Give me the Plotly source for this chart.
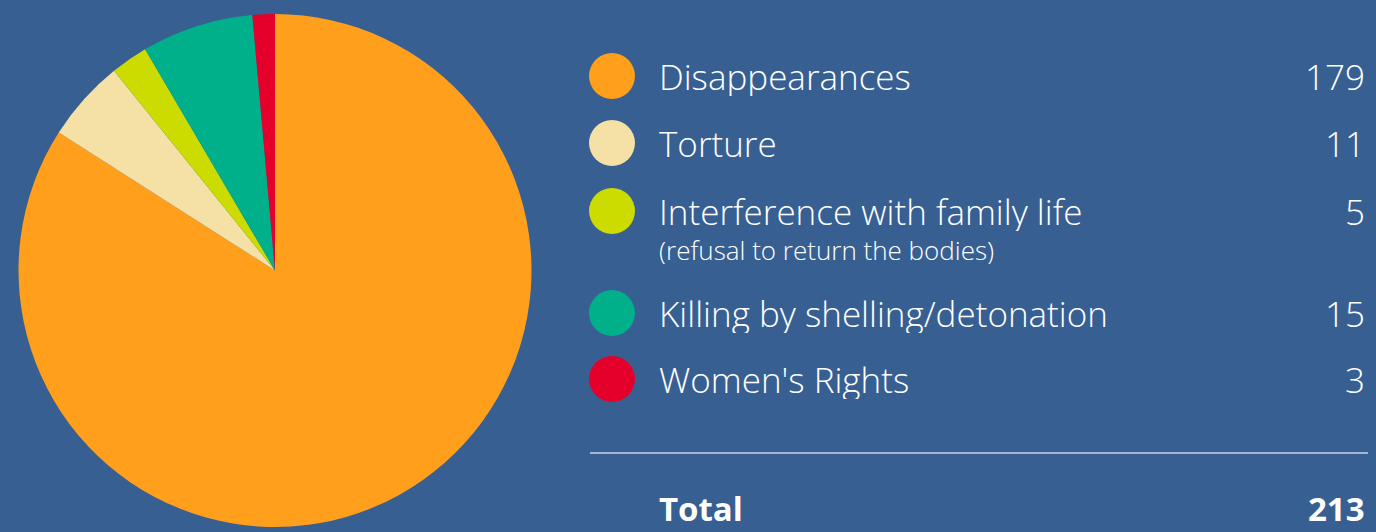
import plotly.graph_objects as go

categories = ["Disappearances", "Torture", "Interference with family life",
              "Killing by shelling/detonation", "Women's Rights"]
values = [179, 11, 5, 15, 3]
colors = ["#FF9F1C", "#F5E1A5", "#CCDB00", "#00B08B", "#E5002B"]
subtitles = ["", "", "(refusal to return the bodies)", "", ""]
total_label = "Total"

W, H = 1376, 532
BG = "#375F92"
FONT = "Open Sans"

def px(x):
    return x / W

def py(y):
    return 1 - y / H

fig = go.Figure()
fig.add_trace(go.Pie(
    labels=categories, values=values, sort=False, direction="clockwise",
    rotation=0, textinfo="none", hoverinfo="label+value",
    marker=dict(colors=colors, line=dict(width=0)),
    domain=dict(x=[px(18), px(532)], y=[py(527), py(14)]),
    showlegend=False,
))

row_y = [76, 143, 211, 313, 379]
shapes = []
annotations = []
r = 23
cx = 612
for i, (cat, val, col, sub) in enumerate(zip(categories, values, colors, subtitles)):
    y = row_y[i]
    shapes.append(dict(type="circle", xref="paper", yref="paper",
                       x0=px(cx - r), x1=px(cx + r), y0=py(y + r), y1=py(y - r),
                       fillcolor=col, line=dict(width=0)))
    annotations.append(dict(x=px(657), y=py(y), xref="paper", yref="paper",
                            text=cat, showarrow=False, xanchor="left", yanchor="middle",
                            height=40, valign="middle",
                            font=dict(family=FONT, size=35, color="white", weight=300)))
    annotations.append(dict(x=px(1367), y=py(y), xref="paper", yref="paper",
                            text=str(val), showarrow=False, xanchor="right", yanchor="middle",
                            height=40, valign="middle",
                            font=dict(family=FONT, size=35, color="white", weight=300)))
    if sub:
        annotations.append(dict(x=px(657), y=py(y + 39), xref="paper", yref="paper",
                                text=sub, showarrow=False, xanchor="left", yanchor="middle",
                                height=28, valign="middle",
                                font=dict(family=FONT, size=26, color="white", weight=300)))

shapes.append(dict(type="line", xref="paper", yref="paper",
                   x0=px(590), x1=px(1368), y0=py(453), y1=py(453),
                   line=dict(color="#C8D2E0", width=1.5)))
annotations.append(dict(x=px(657), y=py(508), xref="paper", yref="paper",
                        text="<b>" + total_label + "</b>", showarrow=False,
                        xanchor="left", yanchor="middle", height=36, valign="middle",
                        font=dict(family=FONT, size=33, color="white")))
annotations.append(dict(x=px(1367), y=py(508), xref="paper", yref="paper",
                        text="<b>" + str(sum(values)) + "</b>", showarrow=False,
                        xanchor="right", yanchor="middle", height=36, valign="middle",
                        font=dict(family=FONT, size=33, color="white")))

fig.update_layout(
    width=W, height=H, margin=dict(l=0, r=0, t=0, b=0),
    paper_bgcolor=BG, plot_bgcolor=BG,
    shapes=shapes, annotations=annotations,
)
fig.write_html("out.html")
